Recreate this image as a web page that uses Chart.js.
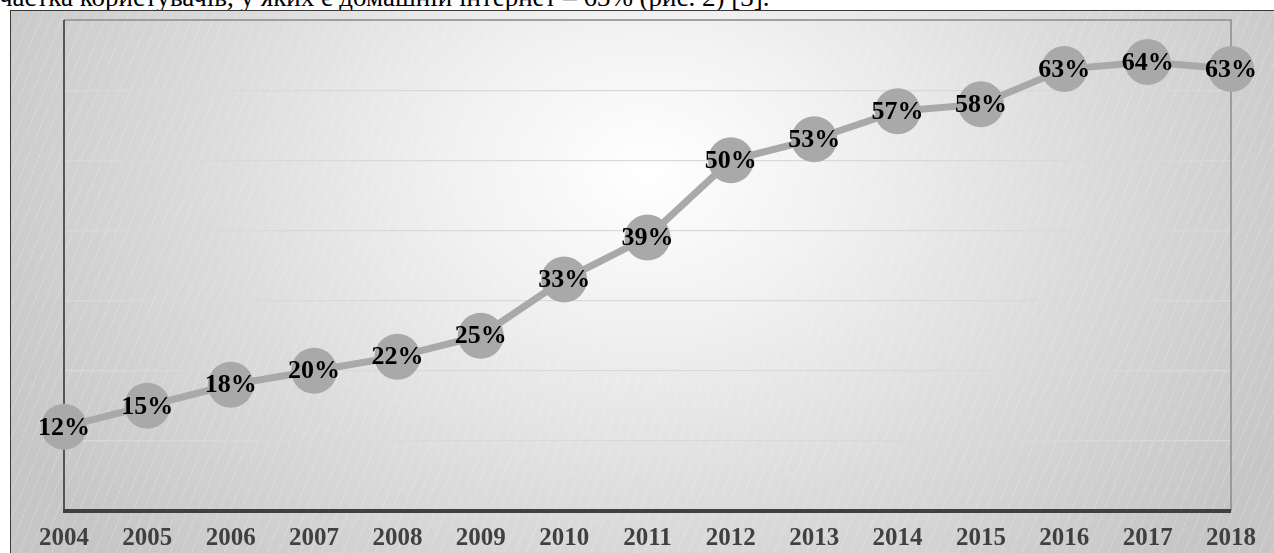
<!DOCTYPE html>
<html lang="uk">
<head>
  <meta charset="UTF-8">
  <title>Частка користувачів з домашнім інтернетом</title>
  <style>
    html, body {
      margin: 0;
      padding: 0;
      width: 1274px;
      height: 553px;
      overflow: hidden;
      background: #fff;
      font-family: "Liberation Serif", "Times New Roman", serif;
    }

    .caption {
      position: absolute;
      left: -1px;
      top: -16px;
      font-size: 27px;
      line-height: 27px;
      color: #000;
      white-space: nowrap;
    }

    .frame {
      position: absolute;
      left: 10px;
      top: 10px;
      width: 1266px;
      height: 545px;
      border-left: 1.5px solid #3a3a3a;
      border-top: 1.5px solid #3a3a3a;
      background:
        repeating-linear-gradient(112deg, rgba(255,255,255,0.18) 0 1px, transparent 1px 10px),
        radial-gradient(ellipse 720px 560px at 635px 160px, #ffffff 0%, #f2f2f2 25%, #dcdcdc 60%, #c6c6c6 100%);
    }

    .frame canvas {
      display: block;
    }
  </style>
</head>
<body>

<div class="caption">частка користувачів, у яких є домашній інтернет – 63% (рис. 2) [3].</div>

<div class="frame">
  <canvas id="chart" width="1264" height="543"></canvas>
</div>

<script src="https://cdn.jsdelivr.net/npm/chart.js"></script>
<script>
const years = ['2004', '2005', '2006', '2007', '2008', '2009', '2010', '2011',
               '2012', '2013', '2014', '2015', '2016', '2017', '2018'];
const shares = [12, 15, 18, 20, 22, 25, 33, 39, 50, 53, 57, 58, 63, 64, 63];
const yTicks = [0, 10, 20, 30, 40, 50, 60, 70];

const markGray = '#a9a9a9';

// рамка області побудови і підписи значень у кружечках
const plotDecor = {
  id: 'plotDecor',
  beforeDatasetsDraw(chart) {
    const { ctx, chartArea: a } = chart;
    ctx.save();
    ctx.strokeStyle = '#8c8c8c';
    ctx.lineWidth = 1.5;
    ctx.beginPath();
    ctx.moveTo(a.left, a.top);
    ctx.lineTo(a.right, a.top);
    ctx.lineTo(a.right, a.bottom);
    ctx.stroke();
    // вертикальна вісь
    ctx.strokeStyle = '#2e2e2e';
    ctx.lineWidth = 1.5;
    ctx.beginPath();
    ctx.moveTo(a.left, a.top);
    ctx.lineTo(a.left, a.bottom);
    ctx.stroke();
    // горизонтальна вісь
    ctx.strokeStyle = '#404040';
    ctx.lineWidth = 4;
    ctx.beginPath();
    ctx.moveTo(a.left - 1, a.bottom);
    ctx.lineTo(a.right, a.bottom);
    ctx.stroke();
    ctx.restore();
  },
  afterDatasetsDraw(chart) {
    const { ctx } = chart;
    const meta = chart.getDatasetMeta(0);
    ctx.save();
    ctx.font = 'bold 26px "Liberation Serif", "Times New Roman", serif';
    ctx.fillStyle = '#000';
    ctx.textAlign = 'center';
    ctx.textBaseline = 'middle';
    meta.data.forEach((pt, i) => {
      ctx.fillText(shares[i] + '%', pt.x, pt.y + 1);
    });
    ctx.restore();
  }
};

new Chart(document.getElementById('chart'), {
  type: 'line',
  data: {
    labels: years,
    datasets: [{
      data: shares,
      borderColor: markGray,
      borderWidth: 7,
      backgroundColor: markGray,
      pointRadius: 23,
      pointHoverRadius: 23,
      pointBorderWidth: 0,
      pointBackgroundColor: markGray,
      tension: 0,
      clip: false
    }]
  },
  options: {
    responsive: false,
    animation: false,
    events: [],
    layout: { autoPadding: false, padding: { left: 53, top: 9, right: 44, bottom: 0 } },
    plugins: {
      legend: { display: false },
      tooltip: { enabled: false }
    },
    scales: {
      x: {
        offset: false,
        grid: { display: false, drawTicks: false },
        border: { display: false },
        ticks: {
          padding: 13,
          color: '#404040',
          maxRotation: 0,
          autoSkip: false,
          font: { family: '"Liberation Serif", "Times New Roman", serif', size: 25, weight: 'bold' }
        },
        afterFit(scale) { scale.height = 43; }
      },
      y: {
        min: yTicks[0],
        max: yTicks[yTicks.length - 1],
        afterBuildTicks(scale) { scale.ticks = yTicks.map(v => ({ value: v })); },
        grid: { color: '#d9d9d9', lineWidth: 1.2, drawTicks: false },
        border: { display: false },
        ticks: { display: false },
        afterFit(scale) { scale.width = 0; }
      }
    }
  },
  plugins: [plotDecor]
});
</script>
</body>
</html>
